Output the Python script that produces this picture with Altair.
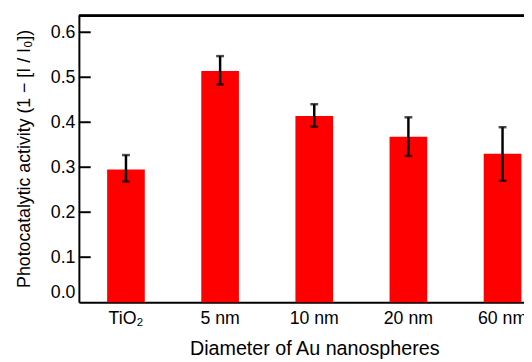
import altair as alt
import pandas as pd

categories = ["TiO₂", "5 nm", "10 nm", "20 nm", "60 nm"]
activity = [0.295, 0.514, 0.414, 0.368, 0.330]
err_low = [0.268, 0.484, 0.390, 0.325, 0.270]
err_high = [0.327, 0.547, 0.440, 0.411, 0.389]
y_ticks = [0.0, 0.1, 0.2, 0.3, 0.4, 0.5, 0.6]

df = pd.DataFrame({"cat": categories, "act": activity, "lo": err_low, "hi": err_high})
tick_df = pd.DataFrame({"v": y_ticks[1:]})

FONT = "Liberation Sans"

# full plot is 478 px wide but only 452 px fit in the window (right side cropped)
x_scale = alt.Scale(paddingInner=0.6, paddingOuter=0.3, range=[0, 478])
y_scale = alt.Scale(domain=[0, 0.637], nice=False, zero=True)

x_axis = alt.Axis(
    title="Diameter of Au nanospheres", labelAngle=0, ticks=False, domain=True,
    domainColor="black", domainWidth=2,
    labelFont=FONT, titleFont=FONT, labelFontSize=18, titleFontSize=20,
    labelColor="black", titleColor="black", titleFontWeight="normal",
    labelPadding=8, titleY=53, titleBaseline="alphabetic", titleX=239,
)
y_axis = alt.Axis(
    title="Photocatalytic activity (1 − [I / I₀])", values=y_ticks, format=".1f",
    ticks=False, tickSize=0, domain=True, domainColor="black", domainWidth=2, grid=False,
    labelFont=FONT, titleFont=FONT, labelFontSize=18, titleFontSize=18,
    labelColor="black", titleColor="black", titleFontWeight="normal",
    labelPadding=4,
    labelOffset={"condition": {"test": "datum.value === 0", "value": -10}, "value": 0},
    titleAngle=270, titleAlign="center", titleBaseline="middle", titleX=-55, titleY=145,
)

base = alt.Chart(df)
bars = base.mark_bar(color="#ff0000").encode(
    x=alt.X("cat:N", sort=categories, scale=x_scale, axis=x_axis),
    y=alt.Y("act:Q", scale=y_scale, axis=y_axis),
)
err = base.mark_rule(color="black", strokeWidth=2.5).encode(
    x=alt.X("cat:N", sort=categories),
    y=alt.Y("lo:Q"),
    y2="hi:Q",
)
cap_lo = base.mark_tick(color="black", thickness=2.5, size=8).encode(
    x=alt.X("cat:N", sort=categories), y=alt.Y("lo:Q")
)
cap_hi = base.mark_tick(color="black", thickness=2.5, size=8).encode(
    x=alt.X("cat:N", sort=categories), y=alt.Y("hi:Q")
)
yt = alt.Chart(tick_df).mark_rule(color="black", strokeWidth=2).encode(
    y=alt.Y("v:Q"), x=alt.value(0), x2=alt.value(12)
)
top_border = alt.Chart(tick_df).mark_rule(color="black", strokeWidth=2).encode(
    y=alt.value(0), x=alt.value(0), x2=alt.value(478)
)

chart = alt.layer(bars, err, cap_lo, cap_hi, yt, top_border).properties(
    width=452, height=291,
    autosize=alt.AutoSizeParams(type="none"),
    padding={"left": 72, "top": 5, "right": 0, "bottom": 58},
).configure_view(stroke=None)

chart.save("out.html", embed_options={"renderer": "svg", "actions": False})
